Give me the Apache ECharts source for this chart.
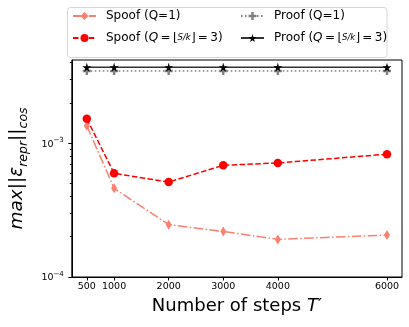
<!DOCTYPE html>
<html>
<head>
<meta charset="utf-8">
<script src="https://cdn.jsdelivr.net/npm/echarts@6/dist/echarts.min.js"></script>
<style>
  html, body { margin: 0; padding: 0; background: #fff; }
  #chart { width: 409px; height: 327px; }
</style>
</head>
<body>
<div id="chart"></div>
<script>
// values (log y axis)
var steps = [500, 1000, 2000, 3000, 4000, 6000];
var spoofQ1 = [1.35e-3, 4.6e-4, 2.46e-4, 2.19e-4, 1.91e-4, 2.06e-4];
var spoofQ3 = [1.52e-3, 5.95e-4, 5.12e-4, 6.83e-4, 7.11e-4, 8.27e-4];
var proofQ1 = [3.46e-3, 3.46e-3, 3.46e-3, 3.46e-3, 3.46e-3, 3.46e-3];
var proofQ3 = [3.69e-3, 3.69e-3, 3.69e-3, 3.69e-3, 3.69e-3, 3.69e-3];

var xTicks = [500, 1000, 2000, 3000, 4000, 6000];
var yMajor = [1e-4, 1e-3];
var yMinor = [2e-4, 3e-4, 4e-4, 5e-4, 6e-4, 7e-4, 8e-4, 9e-4, 2e-3, 3e-3, 4e-3];

var starPath = 'path://M50,0 L61,35 L98,35 L68,57 L79,91 L50,70 L21,91 L32,57 L2,35 L39,35 Z';
var plusPath = 'path://M35,0H65V35H100V65H65V100H35V65H0V35H35Z';

function pairs(ys) {
    return steps.map(function (s, i) { return [s, ys[i]]; });
}

var legendRich = {
    n: { fontSize: 12, fontFamily: 'DejaVu Sans', color: '#000', lineHeight: 14 },
    it: { fontSize: 12, fontFamily: 'DejaVu Sans', fontStyle: 'italic', color: '#000', lineHeight: 14 },
    sm: { fontSize: 8.5, fontFamily: 'DejaVu Sans', fontStyle: 'italic', color: '#000', lineHeight: 14 }
};
var legendText = {
    'Spoof (Q=1)': '{n|Spoof (Q=1)}',
    'Proof (Q=1)': '{n|Proof (Q=1)}',
    'Spoof Q3': '{n|Spoof (}{it|Q}{n|\u2009=\u2009⌊}{sm|S/k}{n|⌋\u2009=\u20093)}',
    'Proof Q3': '{n|Proof (}{it|Q}{n|\u2009=\u2009⌊}{sm|S/k}{n|⌋\u2009=\u20093)}'
};
function legendFmt(name) { return legendText[name]; }

function supLabel(v) {
    var e = Math.round(Math.log(v) / Math.LN10);
    return '{b|10}{s|−' + Math.abs(e) + '}';
}

var chart = echarts.init(document.getElementById('chart'));
chart.setOption({
    animation: false,
    backgroundColor: '#fff',
    graphic: [{
        type: 'rect',
        shape: { x: 67.5, y: 7.5, width: 319.5, height: 50, r: 3 },
        style: { fill: '#fff', stroke: '#d6d6d6', lineWidth: 1 },
        z: 0
    }],
    legend: [{
        orient: 'vertical',
        left: 72, top: 10,
        padding: 0,
        itemGap: 10,
        itemWidth: 23, itemHeight: 10,
        data: ['Spoof (Q=1)', 'Spoof Q3'],
        formatter: legendFmt,
        textStyle: { padding: [0, 0, 0, 5], rich: legendRich }
    }, {
        orient: 'vertical',
        left: 240, top: 10,
        padding: 0,
        itemGap: 10,
        itemWidth: 23, itemHeight: 10,
        data: ['Proof (Q=1)', 'Proof Q3'],
        formatter: legendFmt,
        textStyle: { padding: [0, 0, 0, 5], rich: legendRich }
    }],
    grid: {
        left: 67, right: 7, top: 60, bottom: 50,
        show: true, borderColor: '#000', borderWidth: 1,
        containLabel: false
    },
    xAxis: {
        type: 'value',
        min: 225, max: 6275,
        name: 'Number of steps {it|T}{n|′}',
        nameLocation: 'middle',
        nameGap: 19,
        nameTextStyle: {
            fontSize: 18, fontFamily: 'DejaVu Sans', color: '#000',
            rich: {
                it: { fontSize: 18, fontFamily: 'DejaVu Sans', fontStyle: 'italic', color: '#000' },
                n: { fontSize: 18, fontFamily: 'DejaVu Sans', color: '#000' }
            }
        },
        axisLine: { lineStyle: { color: '#000', width: 1 } },
        axisTick: { inside: false, length: 3.5, customValues: xTicks, lineStyle: { color: '#000' } },
        axisLabel: {
            customValues: xTicks, margin: 5, fontSize: 9.5,
            fontFamily: 'DejaVu Sans', color: '#000',
            formatter: function (v) { return String(v); }
        },
        splitLine: { show: false }
    },
    yAxis: [{
        type: 'log',
        logBase: 10,
        min: 1e-4, max: 4.18e-3,
        name: '{i|max||ε}{sub|repr}{i|||}{sub|cos}',
        nameLocation: 'middle',
        nameRotate: 90,
        nameGap: 36,
        nameTextStyle: {
            rich: {
                i: { fontSize: 18.5, fontFamily: 'DejaVu Sans', fontStyle: 'italic', color: '#000', lineHeight: 26 },
                sub: { fontSize: 12.5, fontFamily: 'DejaVu Sans', fontStyle: 'italic', color: '#000', verticalAlign: 'bottom', lineHeight: 26 }
            }
        },
        axisLine: { show: true, lineStyle: { color: '#000', width: 1 } },
        axisTick: { show: true, inside: false, length: 3.5, customValues: yMajor, lineStyle: { color: '#000' } },
        axisLabel: {
            customValues: yMajor, margin: 8,
            formatter: supLabel,
            rich: {
                b: { fontSize: 9.5, fontFamily: 'DejaVu Sans', color: '#000', lineHeight: 12, verticalAlign: 'bottom' },
                s: { fontSize: 7, fontFamily: 'DejaVu Sans', color: '#000', lineHeight: 12, verticalAlign: 'top' }
            }
        },
        splitLine: { show: false }
    }, {
        type: 'log',
        logBase: 10,
        min: 1e-4, max: 4.18e-3,
        position: 'left',
        axisLine: { show: false },
        axisTick: { show: true, inside: false, length: 2, customValues: yMinor, lineStyle: { color: '#000' } },
        axisLabel: { show: false },
        splitLine: { show: false }
    }],
    series: [{
        name: 'Spoof (Q=1)',
        type: 'line',
        data: pairs(spoofQ1),
        color: '#FA8072',
        symbol: 'diamond',
        symbolSize: [6, 10],
        lineStyle: { width: 1.5, type: [9.6, 2.4, 1.5, 2.4] },
        itemStyle: { color: '#FA8072' },
        z: 3
    }, {
        name: 'Spoof Q3',
        type: 'line',
        data: pairs(spoofQ3),
        color: '#FF0000',
        symbol: 'circle',
        symbolSize: 8.5,
        lineStyle: { width: 1.5, type: [5.5, 2.4] },
        itemStyle: { color: '#FF0000' },
        z: 4
    }, {
        name: 'Proof (Q=1)',
        type: 'line',
        data: pairs(proofQ1),
        color: '#808080',
        symbol: plusPath,
        symbolSize: 8,
        lineStyle: { width: 1.5, type: [1.5, 2.5] },
        itemStyle: { color: '#808080' },
        z: 3
    }, {
        name: 'Proof Q3',
        type: 'line',
        data: pairs(proofQ3),
        color: '#000000',
        symbol: starPath,
        symbolSize: 9,
        lineStyle: { width: 1.5, type: 'solid', color: '#333' },
        itemStyle: { color: '#000' },
        z: 4
    }]
});
</script>
</body>
</html>
